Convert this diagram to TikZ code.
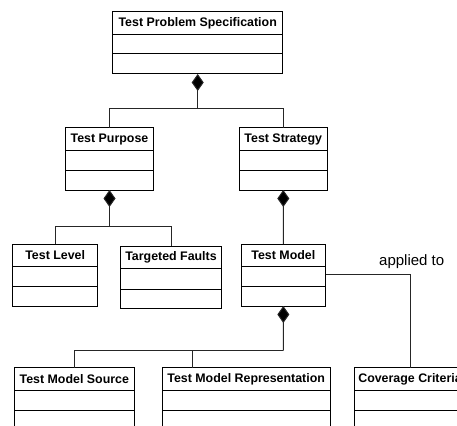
\documentclass[tikz,border=0pt]{standalone}
\usepackage{fontspec}
\setmainfont{Liberation Sans}
\usetikzlibrary{arrows.meta,calc}

\tikzset{
  x=1pt, y=-1pt,
  classbox/.style={draw=black, line width=1pt, rectangle, anchor=north west, inner sep=0pt, outer sep=0pt},
  classtitle/.style={font=\fontsize{12.4}{14}\selectfont\bfseries, inner sep=0pt},
  part/.style={draw=black, line width=1pt},
  link/.style={draw=black!85, line width=1pt},
  compose/.style={link, -{Diamond[length=17pt,width=12pt,fill=black]}},
  assoclabel/.style={font=\fontsize{15}{17}\selectfont, inner sep=0pt}
}

% UML class: name, left, top, width, height, header height, second line, title
\newcommand{\umlclass}[8]{%
  \node[classbox, minimum width=#4pt, minimum height=#5pt] (#1) at (#2,#3) {};
  \draw[part] ([yshift=-#6pt]#1.north west) -- ([yshift=-#6pt]#1.north east);
  \draw[part] ([yshift=-#7pt]#1.north west) -- ([yshift=-#7pt]#1.north east);
  \node[classtitle] (#1-title) at ($(#1.north)+(0,#6/2)$) {#8};
}

\begin{document}
\begin{tikzpicture}
\useasboundingbox (0,0) rectangle (457,425);
\clip (0,0) rectangle (457,425);

% classes
\umlclass{spec}{112.7}{12}{170}{62}{22.3}{42}{Test Problem Specification}
\umlclass{purpose}{65.7}{127.7}{87.6}{62.3}{23}{43}{Test Purpose}
\umlclass{strategy}{239.3}{127.7}{88}{62.3}{23}{43}{Test Strategy}
\umlclass{level}{12.7}{244}{85}{62}{22}{42}{Test Level}
\umlclass{faults}{120.3}{246}{101.4}{62.7}{22.7}{43}{Targeted Faults}
\umlclass{model}{241}{244}{84.7}{62}{22}{42.7}{Test Model}
\umlclass{source}{14.3}{367.7}{120}{80}{22.3}{42.3}{Test Model Source}
\umlclass{repr}{162.3}{367.7}{167.7}{80}{22.3}{42.3}{Test Model Representation}
\umlclass{coverage}{354}{367.7}{112}{80}{22.3}{42.3}{Coverage Criteria}

% junction points of the composition trees
\coordinate (j1) at (197.7,108);
\coordinate (j2) at (109.5,226.7);
\coordinate (j3) at (283.3,350.7);

% Test Problem Specification composition
\draw[compose] (j1) -- (spec.south);
\draw[link] (purpose.north) |- (j1);
\draw[link] (strategy.north) |- (j1);

% Test Purpose composition
\draw[compose] (j2) -- (purpose.south);
\draw[link] (level.north) |- (j2);
\draw[link] (faults.north) |- (j2);

% Test Strategy composition
\draw[compose] (model.north) -- (strategy.south);

% Test Model composition
\draw[compose] (j3) -- (model.south);
\draw[link] (source.north) |- (j3);
\draw[link] ([xshift=-53.5pt]repr.north) |- (j3);

% association to coverage criteria
\draw[link] ([yshift=-30.3pt]model.north east) -| (coverage.north);
\node[assoclabel] (applied) at (411.7,261.7) {applied to};

\end{tikzpicture}
\end{document}
